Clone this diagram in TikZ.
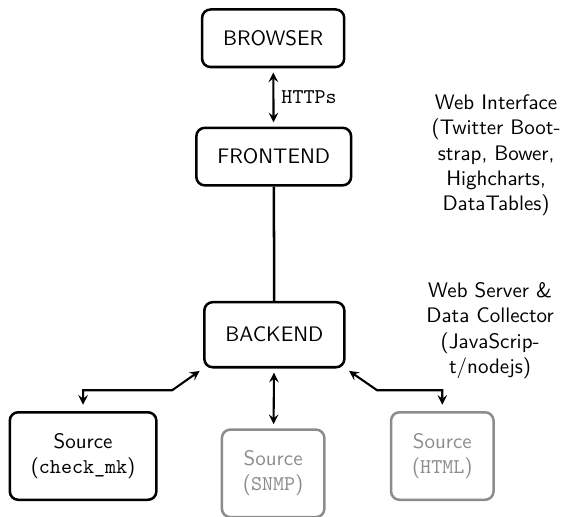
\documentclass[tikz,border=0pt]{standalone}
\usepackage{tikz}
\definecolor{inactive}{gray}{0.55}

\begin{document}
\begin{tikzpicture}[
    box/.style={draw, very thick, rounded corners=4pt, inner sep=10pt, align=center, font=\sffamily},
    offbox/.style={box, draw=inactive, text=inactive},
    conn/.style={line width=1pt, <->, >=stealth, shorten <=2pt, shorten >=2pt},
    note/.style={align=center, font=\sffamily}]
      \useasboundingbox (0,0) rectangle (9.47,-8.64);
      \node (browser) at (4.57,-0.64) [box] {BROWSER};
      \node (frontend) at (4.58,-2.62) [box] {FRONTEND};
      \node (backend) at (4.59,-5.60) [box, minimum height=31pt] {BACKEND};
      \node (src1) at (1.39,-7.63) [box] {Source\\(\texttt{check\_mk})};
      \node (src2) at (4.57,-7.92) [offbox] {Source\\(\texttt{SNMP})};
      \node (src3) at (7.40,-7.63) [offbox] {Source\\(\texttt{HTML})};
      \coordinate (bendL) at (2.88,-6.53);
      \coordinate (bendR) at (6.31,-6.53);
      \draw[conn] (browser) to node[right] {\texttt{HTTPs}} (frontend);
      \draw[very thick] (frontend) to (backend);
      \draw[conn] (backend) to (src2);
      \draw[conn, shorten <=3pt] (src1.north) |- (bendL) to (backend.south west);
      \draw[conn, shorten <=3pt] (src3.north) |- (bendR) to (backend.south east);
      \node (webui) at (8.30,-2.60) [note] {Web Interface\\(Twitter Boot-\\strap, Bower,\\Highcharts,\\DataTables)};
      \node (websrv) at (8.20,-5.53) [note] {Web Server \&\\Data Collector\\(JavaScrip-\\t/nodejs)};
\end{tikzpicture}
\end{document}
